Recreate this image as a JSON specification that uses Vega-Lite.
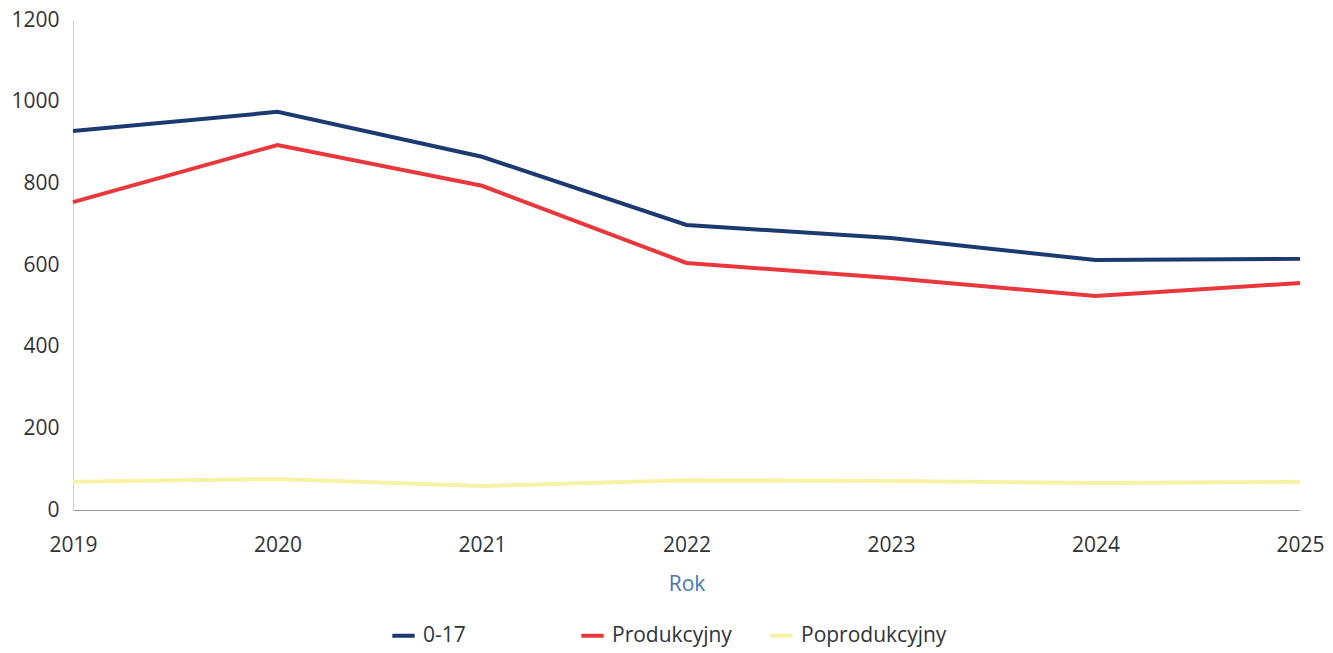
{
  "$schema": "https://vega.github.io/schema/vega-lite/v6.json",
  "width": 1227,
  "height": 490,
  "autosize": {"type": "none"},
  "padding": {"left": 73, "top": 20, "right": 33, "bottom": 143},
  "background": "white",
  "config": {
    "font": "Open Sans",
    "view": {"stroke": null},
    "axis": {"labelFont": "Open Sans", "titleFont": "Open Sans"}
  },
  "data": {
    "values": [
      {"rok": "2019", "grupa": "0-17", "wartosc": 928},
      {"rok": "2020", "grupa": "0-17", "wartosc": 975},
      {"rok": "2021", "grupa": "0-17", "wartosc": 865},
      {"rok": "2022", "grupa": "0-17", "wartosc": 698},
      {"rok": "2023", "grupa": "0-17", "wartosc": 666},
      {"rok": "2024", "grupa": "0-17", "wartosc": 612},
      {"rok": "2025", "grupa": "0-17", "wartosc": 615},
      {"rok": "2019", "grupa": "Produkcyjny", "wartosc": 754},
      {"rok": "2020", "grupa": "Produkcyjny", "wartosc": 894},
      {"rok": "2021", "grupa": "Produkcyjny", "wartosc": 794},
      {"rok": "2022", "grupa": "Produkcyjny", "wartosc": 605},
      {"rok": "2023", "grupa": "Produkcyjny", "wartosc": 568},
      {"rok": "2024", "grupa": "Produkcyjny", "wartosc": 524},
      {"rok": "2025", "grupa": "Produkcyjny", "wartosc": 556},
      {"rok": "2019", "grupa": "Poprodukcyjny", "wartosc": 69},
      {"rok": "2020", "grupa": "Poprodukcyjny", "wartosc": 76},
      {"rok": "2021", "grupa": "Poprodukcyjny", "wartosc": 59},
      {"rok": "2022", "grupa": "Poprodukcyjny", "wartosc": 73},
      {"rok": "2023", "grupa": "Poprodukcyjny", "wartosc": 71},
      {"rok": "2024", "grupa": "Poprodukcyjny", "wartosc": 66},
      {"rok": "2025", "grupa": "Poprodukcyjny", "wartosc": 69}
    ]
  },
  "mark": {"type": "line", "strokeWidth": 4, "strokeCap": "butt"},
  "encoding": {
    "x": {
      "field": "rok",
      "type": "ordinal",
      "scale": {"type": "point", "padding": 0},
      "axis": {
        "title": "Rok",
        "labelAngle": 0,
        "labelFontSize": 21,
        "labelColor": "#333333",
        "labelPadding": 24,
        "ticks": false,
        "domainColor": "#9a9a9a",
        "domainWidth": 1,
        "titleFontSize": 21,
        "titleFontWeight": "normal",
        "titleColor": "#4a78a8",
        "titlePadding": 18,
        "grid": false
      }
    },
    "y": {
      "field": "wartosc",
      "type": "quantitative",
      "scale": {"domain": [0, 1200], "nice": false},
      "axis": {
        "title": null,
        "format": "d",
        "values": [0, 200, 400, 600, 800, 1000, 1200],
        "labelFontSize": 21,
        "labelColor": "#333333",
        "labelPadding": 14,
        "ticks": false,
        "grid": false,
        "domainColor": "#d0d0d0",
        "domainWidth": 1
      }
    },
    "color": {
      "field": "grupa",
      "type": "nominal",
      "sort": ["0-17", "Produkcyjny", "Poprodukcyjny"],
      "scale": {
        "domain": ["0-17", "Produkcyjny", "Poprodukcyjny"],
        "range": ["#1b3a70", "#e8383d", "#f6f2a6"]
      },
      "legend": {
        "title": null,
        "orient": "none",
        "direction": "horizontal",
        "legendX": 317,
        "legendY": 602,
        "symbolType": "stroke",
        "symbolStrokeWidth": 4,
        "symbolSize": 500,
        "labelFontSize": 21,
        "labelColor": "#333333",
        "labelOffset": 6,
        "gridAlign": "all",
        "columnPadding": 4
      }
    }
  }
}
